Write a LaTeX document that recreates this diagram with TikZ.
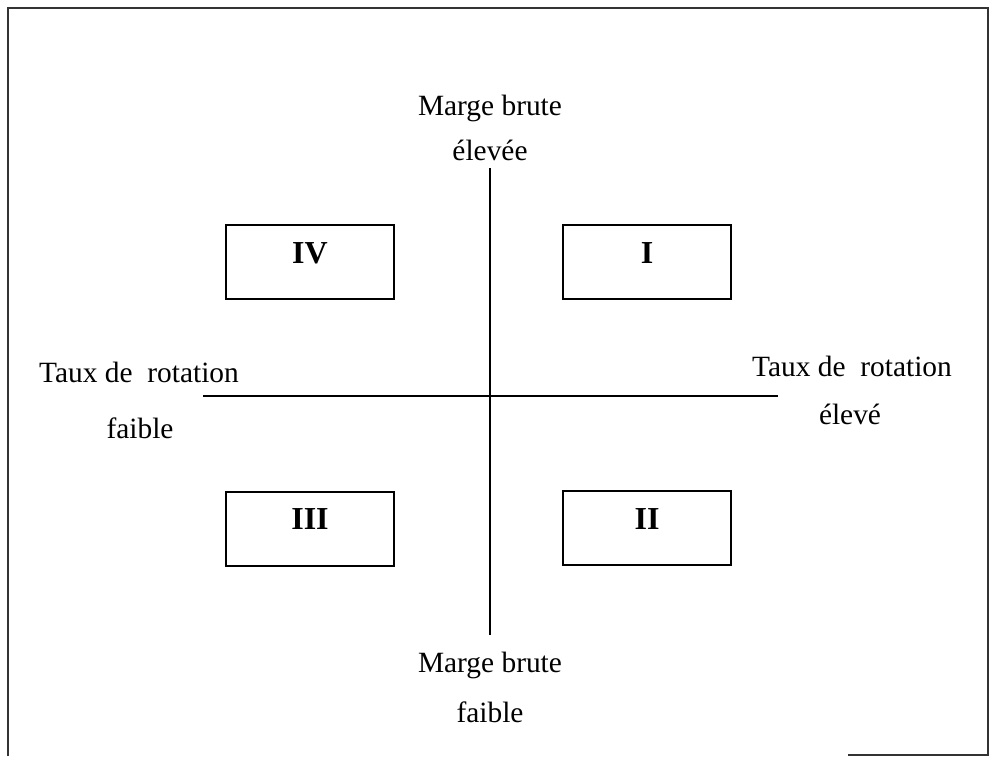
\documentclass[tikz,border=0pt]{standalone}
\usepackage{fontspec}
\setmainfont{Liberation Serif}
\usepackage{tikz}
\usetikzlibrary{positioning}

\begin{document}
\begin{tikzpicture}[x=0.5pt,y=-0.5pt,line width=0.7pt,
    every node/.style={font=\rmfamily\fontsize{14.7}{17}\selectfont,inner sep=0pt}]
    \tikzstyle{quad}=[draw,minimum width=84pt,minimum height=37pt]
    \tikzstyle{num}=[font=\rmfamily\fontsize{16}{18}\selectfont\bfseries]
    \useasboundingbox (0,0) rectangle (989,756);
    % outer frame
    \draw[black!80,line width=0.9pt] (8,756) -- (8,8) -- (988,8) -- (988,755) -- (848,755);

    % the four boxes
    \node[quad] (q4) at (310,262) {};
    \node[quad] (q1) at (647,262) {};
    \node[quad] (q3) at (310,529) {};
    \node[quad] (q2) at (647,528) {};
    \node[num] (n4) at (310,253) {IV};
    \node[num] (n1) at (647,253) {I};
    \node[num] (n3) at (310,519) {III};
    \node[num] (n2) at (647,519) {II};

    % axis labels
    \node (hauttop) at (490,108) {Marge brute};
    \node (hautbot) at (490,150) {élevée};
    \node (bastop) at (490,665) {Marge brute};
    \node (basbot) at (490,712) {faible};
    \node (gtop) at (139,372) {Taux de\ \ rotation};
    \node (gbot) at (140,428) {faible};
    \node (dtop) at (852,366) {Taux de\ \ rotation};
    \node (dbot) at (850,414) {élevé};

    % axes
    \coordinate (vtop) at (490,168);
    \coordinate (vbot) at (490,635);
    \coordinate (hleft) at (203,396);
    \coordinate (hright) at (778,396);
    \draw (vtop) -- (vbot);
    \draw (hleft) -- (hright);
\end{tikzpicture}
\end{document}
